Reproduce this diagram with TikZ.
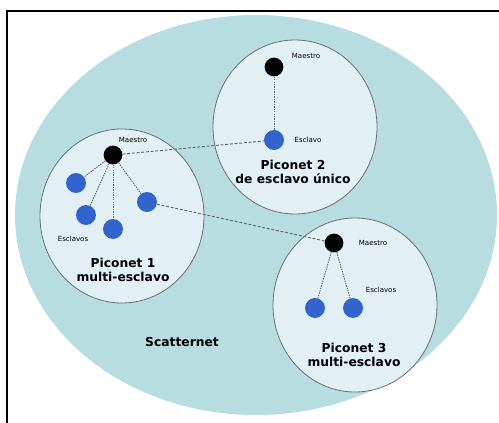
\documentclass[tikz,border=0pt]{standalone}
\usepackage{fontspec}
\setmainfont{DejaVu Sans}
\definecolor{scatterfill}{RGB}{183,221,225}
\definecolor{picofill}{RGB}{226,240,243}
\definecolor{picoline}{RGB}{105,115,118}
\definecolor{slaveblue}{RGB}{50,100,205}
\definecolor{linkgray}{RGB}{95,105,110}
\begin{document}
\begin{tikzpicture}
[x=0.03cm,y=-0.03cm,
  masterdecorate/.style={shape=circle,fill=black,inner sep=0pt,minimum size=16pt},%
  slavedecorate/.style={shape=circle,fill=slaveblue,inner sep=0pt,minimum size=17pt},%
  piconetdecorate/.style={fill=picofill,draw=picoline,line width=0.7pt},%
  smalllabel/.style={font=\fontsize{6}{7}\selectfont,inner sep=0pt},%
  biglabel/.style={font=\fontsize{10.5}{12.5}\selectfont\bfseries,align=center,inner sep=0pt},%
  innerdecorate/.style={-,linkgray,line width=0.8pt,dash pattern=on 1.2pt off 0.9pt},%
  linkdecorate/.style={-,linkgray,line width=0.8pt,dash pattern=on 2.5pt off 1.5pt}]
\useasboundingbox (0,0) rectangle (499,423);
%% frame and areas
\draw[line width=1.7pt] (7,423) -- (7,11) -- (499,11);
\fill[scatterfill] (256,215) ellipse [x radius=241,y radius=200];
\foreach \cx/\cy in {122/216, 295/127, 355/305} {
  \draw[piconetdecorate] (\cx,\cy) ellipse [x radius=82,y radius=87];
}
%% masters and slaves
\foreach \nodename/\x/\y in {ma/113/155, mb/274/67, mc/334/243} {
  \node (\nodename) at (\x,\y) [masterdecorate] {};
}
\foreach \nodename/\x/\y in {sa/76/183, sb/86/215, sc/113/229, sd/147/202,
  se/274/140, sf/315/308, sg/353/308} {
  \node (\nodename) at (\x,\y) [slavedecorate] {};
}
%% edges or lines
\path
\foreach \startnode/\endnode in {ma/sa, ma/sb, ma/sc, ma/sd, mb/se, mc/sf, mc/sg} {
  (\startnode) edge[innerdecorate] (\endnode)
};
\path
\foreach \startnode/\endnode in {ma/se, sd/mc} {
  (\startnode) edge[linkdecorate] (\endnode)
};
%% labels
\node[smalllabel] (la) at (133,140) {Maestro};
\node[smalllabel] (lb) at (306,56) {Maestro};
\node[smalllabel] (lc) at (373,243) {Maestro};
\node[smalllabel] (le) at (308,140) {Esclavo};
\node[smalllabel] (ls) at (73,239) {Esclavos};
\node[smalllabel] (lt) at (381,290) {Esclavos};
\node[biglabel] (pa) at (123,270) {Piconet 1\\multi-esclavo};
\node[biglabel] (pb) at (293,172) {Piconet 2\\de esclavo único};
\node[biglabel] (pc) at (354,355) {Piconet 3\\multi-esclavo};
\node[biglabel] (sn) at (182,342) {Scatternet};
\end{tikzpicture}
\end{document}
